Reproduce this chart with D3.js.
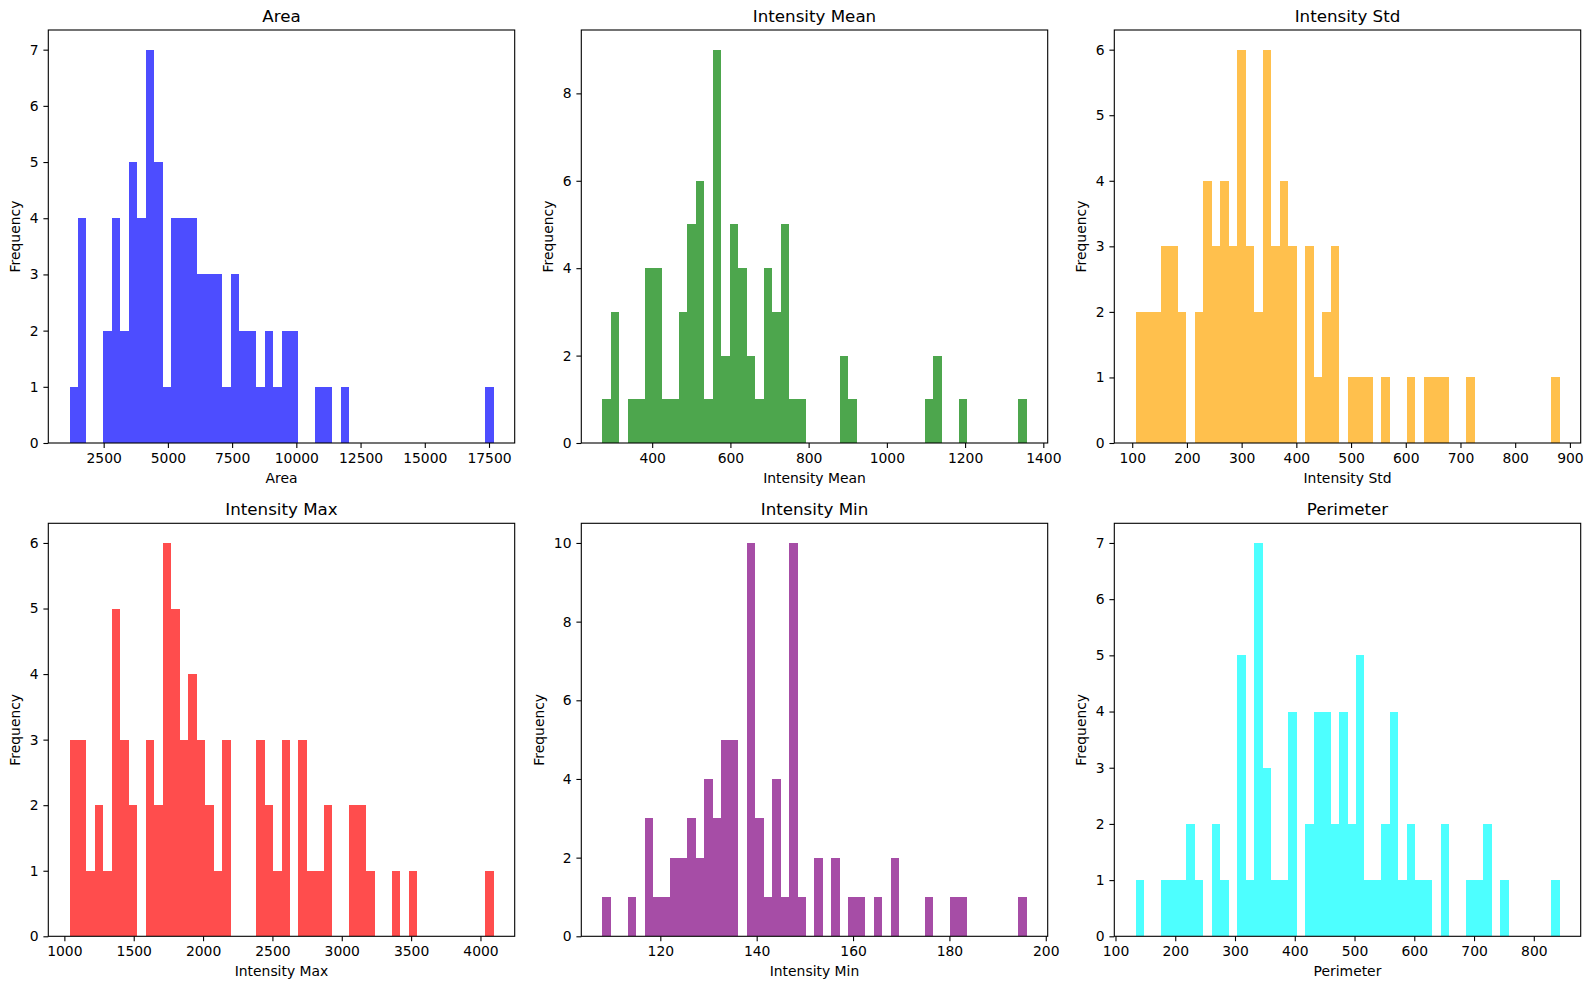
<!DOCTYPE html>
<html>
<head>
<meta charset="utf-8">
<script src="https://cdn.jsdelivr.net/npm/d3@7"></script>
<style>
  body { margin: 0; background: #fff; }
  text { font-family: "DejaVu Sans", sans-serif; fill: #000; }
</style>
</head>
<body>
<div id="d3-container"></div>
<script>
/* CONSTANTS AND GLOBALS */
const width = 1592,
  height = 989;

// panel boxes (left edges per column, top per row)
const colLeft = [48.3, 581.3, 1114.3],
  rowTop = [30, 523.3],
  panelW = 466.4,
  panelH = 413;

const tickFont = 13.9,
  titleFont = 16.7;

/* DATA - counts per bin (50 bins) */
const titles = ["Area", "Intensity Mean", "Intensity Std", "Intensity Max", "Intensity Min", "Perimeter"];
const colors = ["blue", "green", "orange", "red", "purple", "cyan"];

// min / max of each column (histogram range)
const areaRange = [1170, 17675];
const meanRange = [273, 1357];
const stdRange = [106, 881];
const maxRange = [1037, 4094];
const minRange = [108, 196];
const perimRange = [133.5, 843];

const areaCounts = [1, 4, 0, 0, 2, 4, 2, 5, 4, 7, 5, 1, 4, 4, 4, 3, 3, 3, 1, 3,
  2, 2, 1, 2, 1, 2, 2, 0, 0, 1, 1, 0, 1, 0, 0, 0, 0, 0, 0, 0,
  0, 0, 0, 0, 0, 0, 0, 0, 0, 1];
const meanCounts = [1, 3, 0, 1, 1, 4, 4, 1, 1, 3, 5, 6, 1, 9, 2, 5, 4, 2, 1, 4,
  3, 5, 1, 1, 0, 0, 0, 0, 2, 1, 0, 0, 0, 0, 0, 0, 0, 0, 1, 2,
  0, 0, 1, 0, 0, 0, 0, 0, 0, 1];
const stdCounts = [2, 2, 2, 3, 3, 2, 0, 2, 4, 3, 4, 3, 6, 3, 2, 6, 3, 4, 3, 0,
  3, 1, 2, 3, 0, 1, 1, 1, 0, 1, 0, 0, 1, 0, 1, 1, 1, 0, 0, 1,
  0, 0, 0, 0, 0, 0, 0, 0, 0, 1];
const maxCounts = [3, 3, 1, 2, 1, 5, 3, 2, 0, 3, 2, 6, 5, 3, 4, 3, 2, 1, 3, 0,
  0, 0, 3, 2, 1, 3, 0, 3, 1, 1, 2, 0, 0, 2, 2, 1, 0, 0, 1, 0,
  1, 0, 0, 0, 0, 0, 0, 0, 0, 1];
const minCounts = [1, 0, 0, 1, 0, 3, 1, 1, 2, 2, 3, 2, 4, 3, 5, 5, 0, 10, 3, 1,
  4, 1, 10, 1, 0, 2, 0, 2, 0, 1, 1, 0, 1, 0, 2, 0, 0, 0, 1, 0,
  0, 1, 1, 0, 0, 0, 0, 0, 0, 1];
const perimCounts = [1, 0, 0, 1, 1, 1, 2, 1, 0, 2, 1, 0, 5, 1, 7, 3, 1, 1, 4, 0,
  2, 4, 4, 2, 4, 2, 5, 1, 1, 2, 4, 1, 2, 1, 1, 0, 2, 0, 0, 1,
  1, 2, 0, 1, 0, 0, 0, 0, 0, 1];

// tick labels
const areaXTicks = [2500, 5000, 7500, 10000, 12500, 15000, 17500];
const meanXTicks = [400, 600, 800, 1000, 1200, 1400];
const stdXTicks = [100, 200, 300, 400, 500, 600, 700, 800, 900];
const maxXTicks = [1000, 1500, 2000, 2500, 3000, 3500, 4000];
const minXTicks = [120, 140, 160, 180, 200];
const perimXTicks = [100, 200, 300, 400, 500, 600, 700, 800];

const areaYTicks = [0, 1, 2, 3, 4, 5, 6, 7];
const meanYTicks = [0, 2, 4, 6, 8];
const stdYTicks = [0, 1, 2, 3, 4, 5, 6];
const maxYTicks = [0, 1, 2, 3, 4, 5, 6];
const minYTicks = [0, 2, 4, 6, 8, 10];
const perimYTicks = [0, 1, 2, 3, 4, 5, 6, 7];

const ranges = [areaRange, meanRange, stdRange, maxRange, minRange, perimRange];
const counts = [areaCounts, meanCounts, stdCounts, maxCounts, minCounts, perimCounts];
const xTicks = [areaXTicks, meanXTicks, stdXTicks, maxXTicks, minXTicks, perimXTicks];
const yTicks = [areaYTicks, meanYTicks, stdYTicks, maxYTicks, minYTicks, perimYTicks];

/* CREATE SVG */
const svg = d3.select("#d3-container")
  .append("svg")
  .attr("width", width)
  .attr("height", height);

svg.append("rect").attr("width", width).attr("height", height).attr("fill", "#fff");

titles.forEach((title, i) => drawPanel(i));

function drawPanel(i) {
  const x0 = colLeft[i % 3],
    y0 = rowTop[Math.floor(i / 3)];
  const [lo, hi] = ranges[i];
  const data = counts[i];
  const nBins = data.length;
  const binW = (hi - lo) / nBins;
  const pad = (hi - lo) * 0.05;

  // bins from the counts
  const bins = data.map((c, k) => ({ x0: lo + k * binW, x1: lo + (k + 1) * binW, n: c }));

  const xScale = d3.scaleLinear()
    .domain([lo - pad, hi + pad])
    .range([0, panelW]);

  const yScale = d3.scaleLinear()
    .domain([0, d3.max(data) * 1.05])
    .range([panelH, 0]);

  const g = svg.append("g").attr("transform", `translate(${x0},${y0})`);

  // alpha 0.7 blended on white, so adjacent bars don't show seams
  const fill = d3.interpolateRgb("#ffffff", colors[i])(0.7);

  g.selectAll("rect.bar")
    .data(bins.filter(d => d.n > 0))
    .join("rect")
    .attr("class", "bar")
    .attr("x", d => xScale(d.x0))
    .attr("width", d => xScale(d.x1) - xScale(d.x0))
    .attr("y", d => yScale(d.n))
    .attr("height", d => yScale(0) - yScale(d.n))
    .attr("fill", fill)
    .attr("shape-rendering", "crispEdges");

  // + AXES
  const xAxis = d3.axisBottom(xScale)
    .tickValues(xTicks[i])
    .tickSize(4.9)
    .tickPadding(4.9)
    .tickFormat(d3.format("d"));
  const yAxis = d3.axisLeft(yScale)
    .tickValues(yTicks[i])
    .tickSize(4.9)
    .tickPadding(4.9)
    .tickFormat(d3.format("d"));

  const gx = g.append("g")
    .attr("transform", `translate(0,${panelH})`)
    .call(xAxis);
  const gy = g.append("g").call(yAxis);

  [gx, gy].forEach(a => {
    a.select(".domain").remove();
    a.selectAll("line").attr("stroke", "#000").attr("stroke-width", 1.1);
    a.selectAll("text")
      .style("font-family", "DejaVu Sans")
      .attr("font-size", tickFont)
      .attr("fill", "#000");
  });

  // frame
  g.append("rect")
    .attr("width", panelW)
    .attr("height", panelH)
    .attr("fill", "none")
    .attr("stroke", "#000")
    .attr("stroke-width", 1.1);

  // title
  g.append("text")
    .attr("x", panelW / 2)
    .attr("y", -8)
    .attr("text-anchor", "middle")
    .attr("font-size", titleFont)
    .text(titles[i]);

  // x label
  g.append("text")
    .attr("x", panelW / 2)
    .attr("y", panelH + 39.5)
    .attr("text-anchor", "middle")
    .attr("font-size", tickFont)
    .text(titles[i]);

  // y label, placed left of the widest tick label
  const digits = d3.max(yTicks[i], d => String(d).length);
  g.append("text")
    .attr("transform", `translate(${-(20 + 8.8 * digits)},${panelH / 2}) rotate(-90)`)
    .attr("text-anchor", "middle")
    .attr("font-size", tickFont)
    .text("Frequency");
}
</script>
</body>
</html>
